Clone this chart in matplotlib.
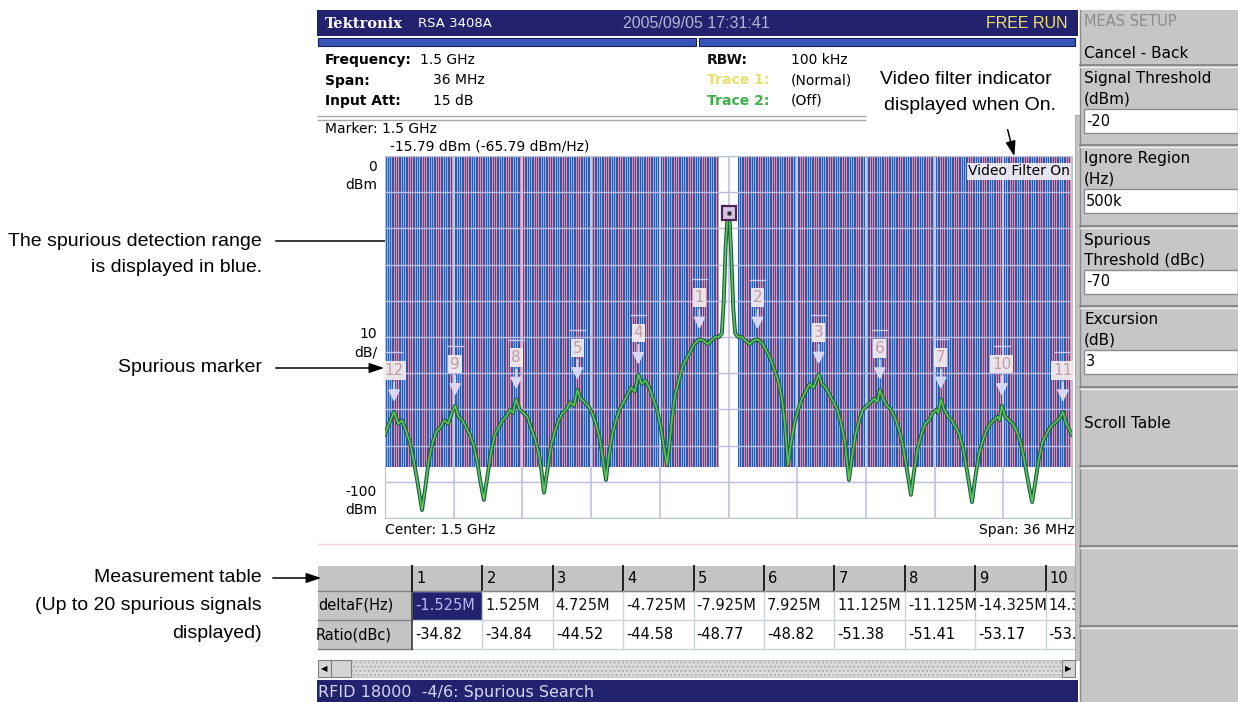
import matplotlib
matplotlib.use('Agg')
import matplotlib.pyplot as plt
from matplotlib.patches import Rectangle
from matplotlib.colors import to_rgba
import numpy as np

# ---- instrument settings ----
info_left_lbl = ['Frequency:', 'Span:', 'Input Att:']
info_left_val = ['1.5 GHz', '36 MHz', '15 dB']
info_right_lbl = ['RBW:', 'Trace 1:', 'Trace 2:']
info_right_val = ['100 kHz', '(Normal)', '(Off)']
info_right_col = ['#111111', '#e8e070', '#3cb048']

carrier_dbm = -15.79
span_mhz = 36.0
ignore_mhz = 0.5        # ignore region (each side)
detect_floor = -86.0    # bottom of the blue detection range

# ---- spurious markers (number, offset MHz, ratio dBc) ----
spur_ids = [1, 2, 3, 4, 5, 6, 7, 8, 9, 10, 11, 12]
spur_mhz = [-1.525, 1.525, 4.725, -4.725, -7.925, 7.925, 11.125, -11.125,
            -14.325, 14.325, 17.525, -17.525]
spur_dbc = [-34.82, -34.84, -44.52, -44.58, -48.77, -48.82, -51.38, -51.41,
            -53.17, -53.2, -54.9, -54.9]

# ---- table (first 10 columns visible) ----
tbl_cols = ['1', '2', '3', '4', '5', '6', '7', '8', '9', '10']
tbl_delta = ['-1.525M', '1.525M', '4.725M', '-4.725M', '-7.925M', '7.925M',
             '11.125M', '-11.125M', '-14.325M', '14.325M']
tbl_ratio = ['-34.82', '-34.84', '-44.52', '-44.58', '-48.77', '-48.82',
             '-51.38', '-51.41', '-53.17', '-53.21']

# ---- trace (MHz offset, dBm) ----
trace_mhz = [
    -18.0, -17.8, -17.53, -17.3, -17.1, -16.9, -16.7, -16.5, -16.3, -16.06,
    -15.9, -15.7, -15.5, -15.3, -15.1, -14.9, -14.7, -14.5, -14.325, -14.15, -13.95, -13.75, -13.55, -13.35, -13.15, -13.0, -12.82,
    -12.65, -12.45, -12.25, -12.05, -11.85, -11.65, -11.45, -11.3, -11.125, -10.95, -10.75, -10.55, -10.35, -10.15, -9.95, -9.8, -9.67,
    -9.5, -9.3, -9.1, -8.9, -8.7, -8.5, -8.3, -8.1, -7.925, -7.75, -7.55, -7.35, -7.15, -6.95, -6.75, -6.6, -6.42,
    -6.3, -6.1, -5.9, -5.7, -5.5, -5.3, -5.1, -4.9, -4.725, -4.55, -4.35, -4.15, -3.95, -3.75, -3.55, -3.4, -3.22,
    -3.1, -2.95, -2.8, -2.6, -2.4, -2.2, -2.0, -1.8, -1.525, -1.3, -1.1, -0.9, -0.7, -0.5, -0.35, -0.25, -0.15, -0.05,
    0.0, 0.05, 0.15, 0.25, 0.35, 0.5, 0.7, 0.9, 1.1, 1.3, 1.525, 1.8, 2.0, 2.2, 2.4, 2.6, 2.8, 2.95, 3.12,
    3.25, 3.45, 3.65, 3.85, 4.05, 4.25, 4.45, 4.6, 4.725, 4.9, 5.1, 5.3, 5.5, 5.7, 5.9, 6.1, 6.31,
    6.45, 6.65, 6.85, 7.05, 7.25, 7.45, 7.65, 7.8, 7.925, 8.1, 8.3, 8.5, 8.7, 8.9, 9.1, 9.3, 9.56,
    9.7, 9.9, 10.1, 10.3, 10.5, 10.7, 10.9, 11.0, 11.125, 11.3, 11.5, 11.7, 11.9, 12.1, 12.3, 12.5, 12.76,
    12.9, 13.1, 13.3, 13.5, 13.7, 13.9, 14.1, 14.2, 14.325, 14.5, 14.7, 14.9, 15.1, 15.3, 15.5, 15.7, 15.91,
    16.05, 16.25, 16.45, 16.65, 16.85, 17.05, 17.25, 17.4, 17.525, 17.7, 17.9, 18.0]
trace_dbm = [
    -77, -74, -70.7, -74, -73, -76, -79, -84, -90, -97.8,
    -92, -84, -79, -76, -75, -73, -74, -71, -69.0, -72, -73, -75, -77, -80, -85, -90, -95,
    -89, -82, -77, -75, -73, -72, -70, -71, -67.2, -70, -71, -72, -75, -78, -82, -87, -93,
    -87, -80, -76, -73, -71, -70, -68, -69, -64.6, -67, -68, -69, -71, -74, -78, -83, -89.5,
    -84, -77, -73, -70, -68, -66, -64, -65, -60.3, -63, -62, -64, -67, -70, -75, -80, -85.4,
    -80, -72, -66, -62, -58, -56, -54, -52, -50.6, -51, -52, -51, -50, -50, -49, -40, -25, -16.5,
    -15.79, -16.5, -28, -42, -49, -50, -50, -51, -52, -51, -50.6, -52, -54, -56, -59, -62, -67, -74, -85.4,
    -80, -74, -70, -67, -65, -63, -64, -62, -60.3, -63, -64, -66, -68, -70, -74, -79, -89.5,
    -84, -77, -73, -70, -69, -68, -67, -68, -64.6, -67, -69, -70, -72, -75, -79, -85, -93.6,
    -88, -81, -77, -74, -73, -71, -70, -71, -67.2, -70, -72, -73, -75, -77, -81, -87, -95.6,
    -90, -83, -79, -76, -74, -73, -72, -73, -69, -72, -73, -74, -76, -79, -84, -90, -95.6,
    -91, -84, -79, -77, -75, -74, -73, -72, -70.7, -74, -76, -77]

# ---- right-hand menu ----
menu_items = [('Signal Threshold', '(dBm)', '-20'),
              ('Ignore Region', '(Hz)', '500k'),
              ('Spurious', 'Threshold (dBc)', '-70'),
              ('Excursion', '(dB)', '3')]

NAVY = '#22226e'
INST = 'DejaVu Sans'
NOTE = ['Liberation Sans Narrow', 'Liberation Sans']

fig = plt.figure(figsize=(12.38, 7.02), dpi=100)
bg = fig.add_axes([0, 0, 1, 1])
bg.set_xlim(0, 1238)
bg.set_ylim(702, 0)
bg.axis('off')

# title bar
bg.add_patch(Rectangle((317, 10), 761, 26, fc=NAVY, ec='none'))
bg.text(325, 23.5, 'Tektronix', color='white', fontsize=10.5, fontweight='bold',
        family='DejaVu Serif', va='center')
bg.text(418, 23.5, 'RSA 3408A', color='white', fontsize=9.5, family=INST, va='center')
bg.text(696, 23.5, '2005/09/05 17:31:41', color='#b4b4d4', fontsize=11.5,
        family='Liberation Sans', va='center', ha='center')
bg.text(1068, 23.5, 'FREE RUN', color='#f0e268', fontsize=11.5,
        family='Liberation Sans', va='center', ha='right')
bg.add_patch(Rectangle((318, 38), 378, 8, fc='#3656b8', ec='#1a1a5a', lw=0.8))
bg.add_patch(Rectangle((699, 38), 376, 8, fc='#3656b8', ec='#1a1a5a', lw=0.8))

# measurement settings
for i in range(3):
    yy = 60 + i * 20.5
    bg.text(325, yy, info_left_lbl[i], fontsize=10, fontweight='bold', family=INST, va='center')
    bg.text(420 if i == 0 else 433, yy, info_left_val[i], fontsize=10, family=INST, va='center')
    bg.text(707, yy, info_right_lbl[i], fontsize=10, fontweight='bold', family=INST,
            va='center', color=info_right_col[i])
    bg.text(791, yy, info_right_val[i], fontsize=10, family=INST, va='center')
bg.plot([318, 865], [116, 116], color='#a8a8a8', lw=1)
bg.plot([318, 865], [119.5, 119.5], color='#a8a8a8', lw=1)

bg.text(325, 129, 'Marker: 1.5 GHz', fontsize=10, family=INST, va='center')
bg.text(390, 146, '%.2f dBm (%.2f dBm/Hz)' % (carrier_dbm, carrier_dbm - 50),
        fontsize=10, family=INST, va='center')

# axis annotations around the grid
bg.text(377, 167, '0', fontsize=10, family=INST, va='center', ha='right')
bg.text(377, 185, 'dBm', fontsize=10, family=INST, va='center', ha='right')
bg.text(377, 334, '10', fontsize=10, family=INST, va='center', ha='right')
bg.text(377, 352, 'dB/', fontsize=10, family=INST, va='center', ha='right')
bg.text(377, 492, '-100', fontsize=10, family=INST, va='center', ha='right')
bg.text(377, 510, 'dBm', fontsize=10, family=INST, va='center', ha='right')
bg.text(385, 530, 'Center: 1.5 GHz', fontsize=10, family=INST, va='center')
bg.text(1075, 530, 'Span: %d MHz' % span_mhz, fontsize=10, family=INST, va='center', ha='right')
bg.plot([318, 1075], [544, 544], color='#f0d8d8', lw=1)

# ---- spectrum grid ----
ax = fig.add_axes([385 / 1238, 1 - 518 / 702, 687 / 1238, 362 / 702])
ax.set_xlim(-span_mhz / 2, span_mhz / 2)
ax.set_ylim(-100, 0)
ax.set_facecolor('white')
for s in ax.spines.values():
    s.set_color('#b8c4d0')
ax.set_xticks([])
ax.set_yticks([])

# blue detection range: one pixel column per screen pixel, striped like the display
n_cols = 687
stripe = [to_rgba(c) for c in ['#2c5aa6', '#2c5aa6', '#e88db4', '#2c5aa6',
                               '#9aa8da', '#2c5aa6', '#e88db4']]
band = np.array([stripe[i % len(stripe)] for i in range(n_cols)])
col_mhz = np.linspace(-span_mhz / 2, span_mhz / 2, n_cols)
band[np.abs(col_mhz) < ignore_mhz, 3] = 0.0
ax.imshow(band[np.newaxis, :, :], extent=(-span_mhz / 2, span_mhz / 2, detect_floor, 0),
          aspect='auto', interpolation='nearest', zorder=1)

for gx in np.linspace(-span_mhz / 2, span_mhz / 2, 11):
    ax.axvline(gx, color='#c8cbe8', lw=1.4, zorder=2)
for gy in np.linspace(-100, 0, 11):
    ax.axhline(gy, color='#bcbde2', lw=1.0, zorder=2)

# trace
ax.plot(trace_mhz, trace_dbm, color='#1d5e48', lw=2.8, zorder=3)
ax.plot(trace_mhz, trace_dbm, color='#5cc852', lw=1.2, zorder=3.1)

# carrier marker
ax.plot([0], [carrier_dbm], marker='s', ms=10, mfc='#d6c6e2', mec='#4e2656', mew=1.6, zorder=4)
ax.plot([0], [carrier_dbm], marker='s', ms=3, mfc='#303030', mec='none', zorder=4.1)

# spurious markers
for sid, f, r in zip(spur_ids, spur_mhz, spur_dbc):
    lvl = carrier_dbm + r
    ax.annotate('', xy=(f, lvl + 2), xytext=(f, lvl + 9),
                arrowprops=dict(arrowstyle='-|>,head_width=0.35,head_length=0.7',
                                color='#d8d8f4', lw=1.3), zorder=4)
    ax.plot([f - 0.4, f + 0.4], [lvl + 16.5, lvl + 16.5], color='#c8c8ee', lw=1.0, zorder=4)
    ax.text(f, lvl + 11.5, str(sid), fontsize=11, family=INST, color='#c49ca4',
            ha='center', va='center', zorder=5,
            bbox=dict(boxstyle='square,pad=0.12', fc='#f4eef0', ec='none', alpha=0.92))

ax.text(17.9, -4.2, 'Video Filter On', fontsize=10, family=INST, ha='right', va='center',
        zorder=5, bbox=dict(boxstyle='square,pad=0.1', fc='#f4f2f6', ec='none', alpha=0.9))

# ---- measurement table ----
col_x = 412 + np.arange(len(tbl_cols)) * 70.4
rows_y = [566, 591, 620, 649]
bg.add_patch(Rectangle((318, rows_y[0]), 757, rows_y[1] - rows_y[0], fc='#c4c4c4', ec='none'))
bg.add_patch(Rectangle((318, rows_y[1]), 94, rows_y[3] - rows_y[1], fc='#c4c4c4', ec='none'))
for yy in rows_y[1:]:
    bg.plot([318, 1075], [yy, yy], color='#c8d4dc', lw=1)
bg.plot([318, 412], [rows_y[2], rows_y[2]], color='#808080', lw=1)
bg.plot([318, 412], [rows_y[3], rows_y[3]], color='#808080', lw=1)
bg.plot([318, 1075], [rows_y[1], rows_y[1]], color='#808080', lw=1)
bg.add_patch(Rectangle((col_x[0], rows_y[1]), 70.4, rows_y[2] - rows_y[1], fc=NAVY, ec='none'))
bg.plot([412, 412], [rows_y[0], rows_y[3]], color='#505050', lw=1.4)
for i, cx in enumerate(col_x):
    bg.plot([cx, cx], [rows_y[0], rows_y[1]], color='#202020', lw=1.4)
    if i > 0:
        bg.plot([cx, cx], [rows_y[1], rows_y[3]], color='#c8d4dc', lw=1)
    bg.text(cx + 4, 578.5, tbl_cols[i], fontsize=10.5, family=INST, va='center')
    bg.text(cx + 3, 605.5, tbl_delta[i], fontsize=10.5, family=INST, va='center',
            color='#b8b8f0' if i == 0 else '#111111')
    bg.text(cx + 3, 634.5, tbl_ratio[i], fontsize=10.5, family=INST, va='center')
bg.text(318, 605.5, 'deltaF(Hz)', fontsize=10.5, family=INST, va='center')
bg.text(316, 634.5, 'Ratio(dBc)', fontsize=10.5, family=INST, va='center')

# scroll bar + status line
bg.add_patch(Rectangle((318, 660), 757, 17, fc='#dcdcdc', ec='#b0b0b0', hatch='....', lw=0.5))
bg.add_patch(Rectangle((318, 660), 13, 17, fc='#d4d4d4', ec='#808080', lw=0.8))
bg.add_patch(Rectangle((331, 660), 20, 17, fc='#d4d4d4', ec='#808080', lw=0.8))
bg.add_patch(Rectangle((1062, 660), 13, 17, fc='#d4d4d4', ec='#808080', lw=0.8))
bg.text(324.5, 668.5, '◀', fontsize=6, ha='center', va='center', color='black')
bg.text(1068.5, 668.5, '▶', fontsize=6, ha='center', va='center', color='black')
bg.add_patch(Rectangle((317, 680), 761, 22, fc=NAVY, ec='none'))
bg.text(318, 692, 'RFID 18000  -4/6: Spurious Search', fontsize=11.5, family=INST,
        color='#d4d4f4', va='center')

# right edge strip of the screen
bg.add_patch(Rectangle((1075, 115), 5, 545, fc='#c4c4c4', ec='#a0a0a0', lw=0.6, zorder=5))

# ---- right menu ----
bg.add_patch(Rectangle((1080, 10), 158, 692, fc='#c6c6c6', ec='none', zorder=6))
bg.plot([1080, 1080], [10, 702], color='#8a8a8a', lw=1, zorder=6)
bg.text(1084, 22, 'MEAS SETUP', fontsize=10.5, family=INST, color='#8c8c8c', va='center', zorder=7)
bg.text(1084, 54, 'Cancel - Back', fontsize=11, family=INST, va='center', zorder=7)
seps = [65, 145, 226, 306, 387, 466, 546, 626]
for sy in seps:
    bg.plot([1080, 1238], [sy, sy], color='#808080', lw=1.2, zorder=7)
    bg.plot([1080, 1238], [sy + 1.5, sy + 1.5], color='#eeeeee', lw=1, zorder=7)
for i, (l1, l2, val) in enumerate(menu_items):
    top = seps[i]
    bg.text(1084, top + 14, l1, fontsize=11, family=INST, va='center', zorder=7)
    bg.text(1084, top + 34, l2, fontsize=11, family=INST, va='center', zorder=7)
    bg.add_patch(Rectangle((1084, top + 44), 154, 24, fc='white', ec='#8c8c8c', lw=1, zorder=7))
    bg.text(1086, top + 56, val, fontsize=10.5, family=INST, va='center', zorder=8)
bg.text(1084, 424, 'Scroll Table', fontsize=11, family=INST, va='center', zorder=7)

# ---- call-outs ----
arrow = dict(arrowstyle='-|>,head_width=0.3,head_length=0.9', color='black', lw=1.1)
bg.text(262, 242, 'The spurious detection range', fontsize=14, family=NOTE, ha='right', va='center')
bg.text(262, 268, 'is displayed in blue.', fontsize=14, family=NOTE, ha='right', va='center')
bg.annotate('', xy=(433, 241), xytext=(273, 241), arrowprops=arrow, zorder=8)
bg.text(262, 368, 'Spurious marker', fontsize=14, family=NOTE, ha='right', va='center')
bg.annotate('', xy=(387, 368), xytext=(273, 368), arrowprops=arrow, zorder=8)
bg.text(262, 578, 'Measurement table', fontsize=14, family=NOTE, ha='right', va='center')
bg.text(262, 606, '(Up to 20 spurious signals', fontsize=14, family=NOTE, ha='right', va='center')
bg.text(262, 634, 'displayed)', fontsize=14, family=NOTE, ha='right', va='center')
bg.annotate('', xy=(324, 578), xytext=(270, 578), arrowprops=arrow, zorder=8)
bg.text(966, 80, 'Video filter indicator', fontsize=14, family=NOTE, ha='center', va='center')
bg.text(970, 106, 'displayed when On.', fontsize=14, family=NOTE, ha='center', va='center')
bg.annotate('', xy=(1015, 159), xytext=(1007, 127), arrowprops=arrow, zorder=8)

fig.savefig('out.png', dpi=100)
